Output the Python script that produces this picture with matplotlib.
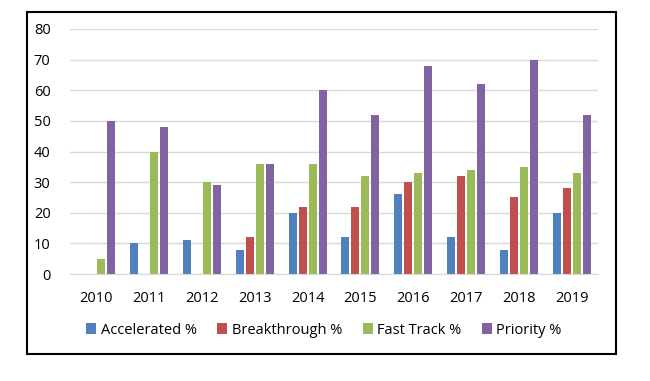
import matplotlib
matplotlib.use("Agg")
import matplotlib.pyplot as plt
import numpy as np
from matplotlib.patches import Rectangle

years = ["2010", "2011", "2012", "2013", "2014", "2015", "2016", "2017", "2018", "2019"]
accelerated = [0, 10, 11, 8, 20, 12, 26, 12, 8, 20]
breakthrough = [0, 0, 0, 12, 22, 22, 30, 32, 25, 28]
fast_track = [5, 40, 30, 36, 36, 32, 33, 34, 35, 33]
priority = [50, 48, 29, 36, 60, 52, 68, 62, 70, 52]
series_names = ["Accelerated %", "Breakthrough %", "Fast Track %", "Priority %"]
colors = ["#4F81BD", "#C0504D", "#9BBB59", "#8064A2"]

plt.rcParams['font.family'] = ['Open Sans', 'DejaVu Sans']

fig = plt.figure(figsize=(6.5, 3.81), dpi=100)
ax = fig.add_axes([70/650, 1-274/381, 528/650, 245/381])

x = np.arange(len(years))
bw = 0.15
step = 0.19
series = [accelerated, breakthrough, fast_track, priority]
for i, (vals, name, c) in enumerate(zip(series, series_names, colors)):
    ax.bar(x + (i - 1.5) * step, vals, width=bw, color=c, label=name, zorder=3)

ax.set_xlim(-0.5, len(years) - 0.5)
ax.set_ylim(0, 80)
ax.set_yticks(range(0, 81, 10))
ax.set_xticks(x)
ax.set_xticklabels(years)
ax.grid(axis='y', color='#D9D9D9', linewidth=1, zorder=0)
for s in ['top', 'right', 'left']:
    ax.spines[s].set_visible(False)
ax.spines['bottom'].set_color('#D9D9D9')
ax.spines['bottom'].set_zorder(4)
ax.tick_params(axis='both', length=0, labelsize=10.5, colors='#000000')
ax.tick_params(axis='y', pad=14)
ax.tick_params(axis='x', pad=12)

leg = fig.legend(loc='center', bbox_to_anchor=(324/650, 1-330/381), ncol=4, frameon=False,
                 fontsize=10.5, handlelength=0.7, handleheight=0.7, handletextpad=0.3,
                 columnspacing=1.4)

fig.patches.append(Rectangle((27/650, 1-354/381), 589/650, 342/381, transform=fig.transFigure,
                             fill=False, edgecolor='black', linewidth=1.5))

fig.savefig("out.png", dpi=100)
